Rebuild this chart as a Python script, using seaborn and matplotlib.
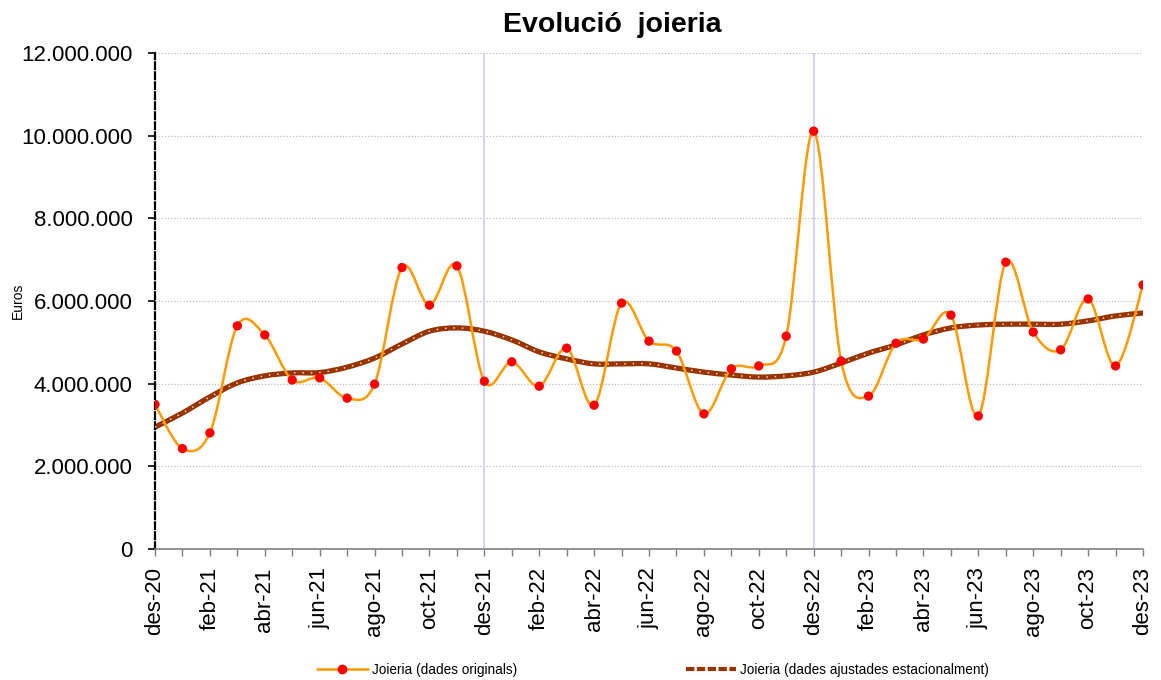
import numpy as np
import pandas as pd
import seaborn as sns
import matplotlib.pyplot as plt
from matplotlib.path import Path
from matplotlib.patches import PathPatch
from matplotlib.lines import Line2D
from matplotlib.ticker import FuncFormatter, MultipleLocator

# dades mensuals des-20 .. des-23
mesos = ['des-20', 'gen-21', 'feb-21', 'mar-21', 'abr-21', 'mai-21', 'jun-21', 'jul-21',
         'ago-21', 'set-21', 'oct-21', 'nov-21', 'des-21', 'gen-22', 'feb-22', 'mar-22',
         'abr-22', 'mai-22', 'jun-22', 'jul-22', 'ago-22', 'set-22', 'oct-22', 'nov-22',
         'des-22', 'gen-23', 'feb-23', 'mar-23', 'abr-23', 'mai-23', 'jun-23', 'jul-23',
         'ago-23', 'set-23', 'oct-23', 'nov-23', 'des-23']

originals = [3.50, 2.43, 2.81, 5.40, 5.18, 4.09, 4.14, 3.65,
             3.99, 6.81, 5.90, 6.85, 4.06, 4.53, 3.94, 4.86,
             3.48, 5.95, 5.03, 4.79, 3.27, 4.36, 4.43, 5.15,
             10.11, 4.55, 3.70, 4.98, 5.08, 5.66, 3.22, 6.94,
             5.25, 4.82, 6.05, 4.43, 6.39]

ajustades = [2.95, 3.29, 3.68, 4.02, 4.19, 4.26, 4.27, 4.40,
             4.62, 4.96, 5.27, 5.35, 5.27, 5.06, 4.77, 4.60,
             4.48, 4.48, 4.48, 4.38, 4.28, 4.21, 4.16, 4.19,
             4.28, 4.50, 4.74, 4.94, 5.18, 5.35, 5.42, 5.44,
             5.44, 5.44, 5.52, 5.64, 5.71]

df = pd.DataFrame({'mes': np.arange(len(mesos)),
                   'originals': np.array(originals) * 1e6,
                   'ajustades': np.array(ajustades) * 1e6})


def corba_suau(x, y):
    # corba de Bezier tipus Excel "línia suavitzada"
    pts = np.column_stack([x, y]).astype(float)
    n = len(pts)
    verts = [pts[0]]
    codes = [Path.MOVETO]
    for i in range(n - 1):
        p0 = pts[i - 1] if i > 0 else pts[i]
        p1, p2 = pts[i], pts[i + 1]
        p3 = pts[i + 2] if i + 2 < n else pts[i + 1]
        verts += [p1 + (p2 - p0) / 6, p2 - (p3 - p1) / 6, p2]
        codes += [Path.CURVE4] * 3
    return Path(verts, codes)


sns.set_theme(style='white')
plt.rcParams['font.family'] = ['Liberation Sans', 'DejaVu Sans']
plt.rcParams['text.color'] = 'black'
plt.rcParams['axes.labelcolor'] = 'black'
plt.rcParams['xtick.color'] = 'black'
plt.rcParams['ytick.color'] = 'black'

fig = plt.figure(figsize=(11.61, 6.8), dpi=100)
ax = fig.add_axes([0.1335, 0.1926, 0.851, 0.7294])

# graella i separadors d'any
for yv in range(2, 13, 2):
    ax.axhline(yv * 1e6, color='#bdbdbd', lw=0.9, ls=(0, (1, 1.5)), zorder=0)
for xv in [0, 12, 24]:
    ax.axvline(xv, color='#ccccff', lw=1.2, zorder=0)

# sèrie ajustada (marró amb punts blancs)
cami_aj = corba_suau(df['mes'], df['ajustades'])
ax.add_patch(PathPatch(cami_aj, fill=False, edgecolor='#993300', lw=3.8, zorder=2,
                       capstyle='round'))
ax.add_patch(PathPatch(cami_aj, fill=False, edgecolor='#e8d8c8', lw=1.1,
                       ls=(0, (1, 4.5)), zorder=3))

# sèrie original (taronja, punts vermells)
cami_or = corba_suau(df['mes'], df['originals'])
ax.add_patch(PathPatch(cami_or, fill=False, edgecolor='#ff9900', lw=1.8, zorder=4))
sns.scatterplot(data=df, x='mes', y='originals', color='#ff0000', s=45,
                edgecolor='none', zorder=5, ax=ax, legend=False)

ax.set_xlim(0, 36)
ax.set_ylim(0, 12e6)
ax.set_xticks(df['mes'])
ax.set_xticklabels([m if i % 2 == 0 else '' for i, m in enumerate(mesos)],
                   rotation=90, fontsize=16)
ax.yaxis.set_major_locator(MultipleLocator(2e6))
ax.yaxis.set_major_formatter(FuncFormatter(lambda v, p: f"{int(v):,}".replace(',', '.')))
ax.tick_params(axis='y', labelsize=16, direction='out', length=5, width=1.2,
               color='black', pad=11, left=True)
ax.tick_params(axis='x', direction='out', length=5, width=1, color='#808080',
               pad=8, bottom=True)

for s in ['top', 'right']:
    ax.spines[s].set_visible(False)
ax.spines['bottom'].set_color('#808080')
ax.spines['bottom'].set_linewidth(1.2)
ax.spines['left'].set_color('black')
ax.spines['left'].set_linewidth(1.6)
ax.spines['left'].set_linestyle((0, (3, 1.5)))
ax.set_xlabel('')
ax.set_ylabel('Euros', fontsize=10)
ax.yaxis.set_label_coords(-0.132, 0.5)

fig.suptitle('Evolució  joieria', fontsize=20.5, fontweight='bold', x=0.527, y=0.983)

handles = [
    Line2D([], [], color='#ff9900', lw=1.8, marker='o', markersize=6,
           markerfacecolor='#ff0000', markeredgecolor='#ff0000'),
    Line2D([], [], color='#993300', lw=3, ls=(0, (2, 0.6))),
]
fig.legend(handles, ['Joieria (dades originals)',
                     'Joieria (dades ajustades estacionalment)'],
           loc='center', bbox_to_anchor=(0.5625, 0.015), ncol=2, frameon=False,
           fontsize=9.8, columnspacing=12.4, handlelength=3.7, handletextpad=0.3)

fig.savefig('out.png', dpi=100)
